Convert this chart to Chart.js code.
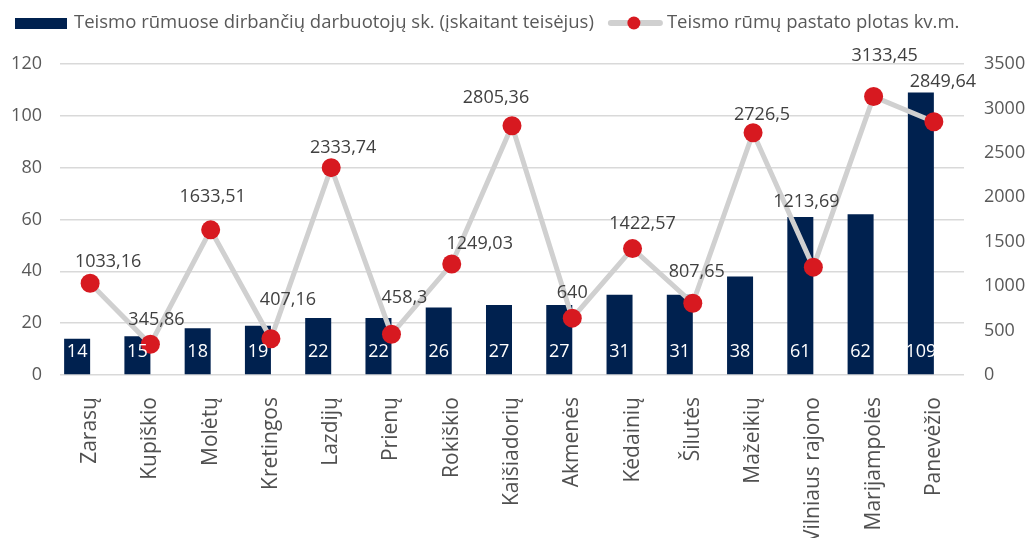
<!DOCTYPE html>
<html>
<head>
<meta charset="utf-8">
<script src="https://cdn.jsdelivr.net/npm/chart.js@4"></script>
<style>
  html, body { margin: 0; padding: 0; background: #fff; }
  #wrap { width: 1030px; height: 538px; }
</style>
</head>
<body>
<div id="wrap"><canvas id="chartCourts" width="1030" height="538"></canvas></div>
<script>
Chart.defaults.font.family = "'Open Sans', sans-serif";
Chart.defaults.color = '#595959';

const courts = [
    'Zarasų', 'Kupiškio', 'Molėtų', 'Kretingos', 'Lazdijų', 'Prienų', 'Rokiškio',
    'Kaišiadorių', 'Akmenės', 'Kėdainių', 'Šilutės', 'Mažeikių', 'Vilniaus rajono',
    'Marijampolės', 'Panevėžio'
];
const employees = [14, 15, 18, 19, 22, 22, 26, 27, 27, 31, 31, 38, 61, 62, 109];
const buildingArea = [
    1033.16, 345.86, 1633.51, 407.16, 2333.74, 458.3, 1249.03, 2805.36,
    640, 1422.57, 807.65, 2726.5, 1213.69, 3133.45, 2849.64
];

const employeesLabel = 'Teismo rūmuose dirbančių darbuotojų sk. (įskaitant teisėjus)';
const areaLabel = 'Teismo rūmų pastato plotas kv.m.';

const navy = '#00214F';
const red = '#D71920';
const lineGray = '#D0D0D0';

// label nudges (px) so the point labels sit where the original put them
const areaLabelNudge = [
    [18, -21], [6, -24], [2, -33], [17, -39], [12, -20], [13, -36], [28, -20], [-16, -28],
    [0, -25], [10, -25], [4, -31], [9, -18], [-7, -65], [11, -41], [9, -40]
];

const fmtComma = v => String(v).replace('.', ',');

// Data labels + legend drawn by hand
const labelsPlugin = {
    id: 'labelsPlugin',
    afterDatasetsDraw(chart) {
        const ctx = chart.ctx;
        ctx.save();
        ctx.textAlign = 'center';
        ctx.textBaseline = 'middle';

        const barMeta = chart.getDatasetMeta(1);
        ctx.font = "18px 'Open Sans', sans-serif";
        ctx.fillStyle = '#ffffff';
        barMeta.data.forEach((bar, i) => {
            ctx.fillText(String(employees[i]), bar.x, chart.scales.y.bottom - 23);
        });

        const lineMeta = chart.getDatasetMeta(0);
        ctx.fillStyle = '#404040';
        lineMeta.data.forEach((pt, i) => {
            const [dx, dy] = areaLabelNudge[i];
            ctx.fillText(fmtComma(buildingArea[i]), pt.x + dx, pt.y + dy);
        });
        ctx.restore();
    },
    afterDraw(chart) {
        const ctx = chart.ctx;
        ctx.save();
        ctx.font = "18.5px 'Open Sans', sans-serif";
        ctx.textBaseline = 'middle';
        const y = 23;
        ctx.fillStyle = navy;
        ctx.fillRect(15, 18, 52, 11);
        ctx.fillStyle = '#595959';
        ctx.fillText(employeesLabel, 74, y);
        let x = 74 + ctx.measureText(employeesLabel).width + 14;
        ctx.strokeStyle = lineGray;
        ctx.lineWidth = 6;
        ctx.lineCap = 'round';
        ctx.beginPath();
        ctx.moveTo(x + 3, y);
        ctx.lineTo(x + 52, y);
        ctx.stroke();
        ctx.fillStyle = red;
        ctx.beginPath();
        ctx.arc(x + 26, y, 6.5, 0, Math.PI * 2);
        ctx.fill();
        ctx.fillStyle = '#595959';
        ctx.fillText(areaLabel, x + 59, y);
        ctx.restore();
    }
};

const ctx = document.getElementById('chartCourts').getContext('2d');
new Chart(ctx, {
    type: 'bar',
    data: {
        labels: courts,
        datasets: [
            {
                type: 'line',
                label: areaLabel,
                data: buildingArea,
                yAxisID: 'y2',
                borderColor: lineGray,
                borderWidth: 5,
                pointRadius: 9.5,
                pointHoverRadius: 9.5,
                pointBackgroundColor: red,
                pointBorderColor: red,
                pointBorderWidth: 0,
                tension: 0,
                order: 0
            },
            {
                label: employeesLabel,
                data: employees,
                yAxisID: 'y',
                backgroundColor: navy,
                categoryPercentage: 0.863,
                barPercentage: 1,
                order: 1
            },
            {
                // empty slot, keeps the bar left of the category centre
                label: '',
                data: courts.map(() => null),
                yAxisID: 'y',
                categoryPercentage: 0.863,
                barPercentage: 1,
                order: 2
            }
        ]
    },
    options: {
        responsive: false,
        animation: false,
        layout: { padding: { top: 64, left: 0, right: 0, bottom: 0 } },
        plugins: {
            legend: { display: false },
            tooltip: { enabled: false }
        },
        scales: {
            x: {
                grid: { display: false },
                border: { display: false },
                ticks: {
                    color: '#505050',
                    font: { size: 21 },
                    minRotation: 90,
                    maxRotation: 90,
                    padding: 14,
                    autoSkip: false
                },
                afterFit(scale) {
                    scale.height = 163;
                    scale.paddingLeft = 0;
                    scale.paddingRight = 0;
                }
            },
            y: {
                position: 'left',
                min: 0,
                max: 120,
                ticks: { stepSize: 20, font: { size: 18 }, padding: 18 },
                grid: { color: '#D9D9D9', lineWidth: 1.5, drawTicks: false },
                border: { display: false },
                afterFit(scale) {
                    scale.width = 60;
                    scale.paddingTop = 0;
                    scale.paddingBottom = 0;
                }
            },
            y2: {
                position: 'right',
                min: 0,
                max: 3500,
                ticks: {
                    stepSize: 500,
                    font: { size: 18 },
                    padding: 20,
                    callback: v => String(v)
                },
                grid: { display: false, drawTicks: false },
                border: { display: false },
                afterFit(scale) {
                    scale.width = 66;
                    scale.paddingTop = 0;
                    scale.paddingBottom = 0;
                }
            }
        }
    },
    plugins: [labelsPlugin]
});
</script>
</body>
</html>
